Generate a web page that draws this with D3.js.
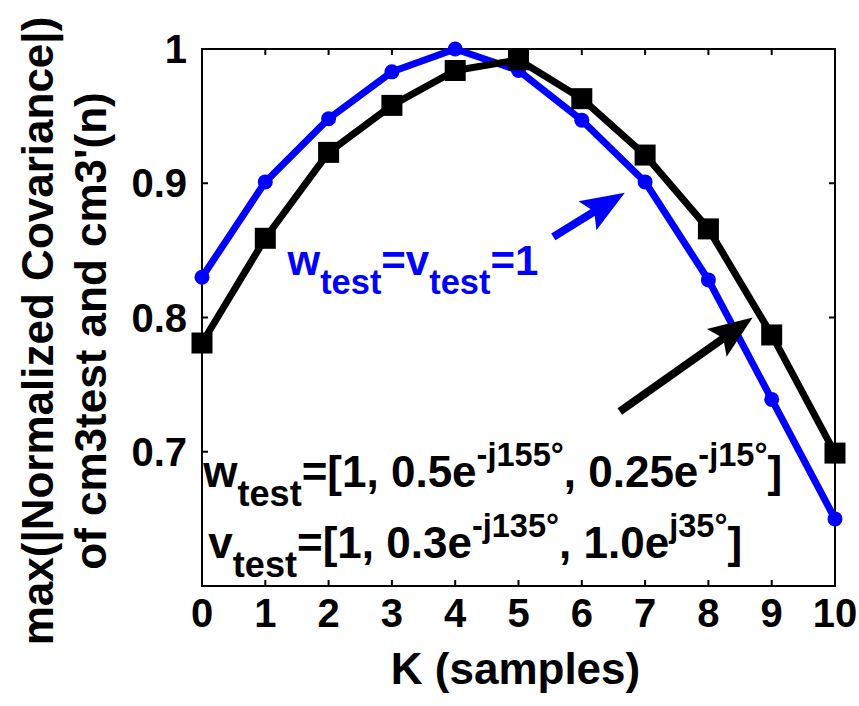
<!doctype html>
<html lang="en">
<head>
<meta charset="utf-8">
<title>max normalized covariance vs K</title>
<script src="https://cdn.jsdelivr.net/npm/d3@7"></script>
<style>
html, body { margin: 0; padding: 0; background: #fff; }
svg { display: block; font-family: "Liberation Sans", Arial, sans-serif; font-weight: bold; }
.frame { fill: none; stroke: #000; stroke-width: 2px; }
.tick-mark { stroke: #000; stroke-width: 2px; }
</style>
</head>
<body>
<svg id="chart" width="859" height="706"></svg>
<script>
// samples K
const kValues = [0, 1, 2, 3, 4, 5, 6, 7, 8, 9, 10];
// w_test = v_test = 1 (blue)
const unitWeights = [0.830, 0.901, 0.948, 0.983, 1.000, 0.984, 0.947, 0.901, 0.828, 0.739, 0.650];
// w_test = [1, 0.5e-j155, 0.25e-j15], v_test = [1, 0.3e-j135, 1.0ej35] (black)
const testWeights = [0.781, 0.859, 0.923, 0.958, 0.984, 0.992, 0.963, 0.921, 0.866, 0.787, 0.699];
const yTicks = [0.7, 0.8, 0.9, 1];
const yTickLabels = ["0.7", "0.8", "0.9", "1"];
const xTicks = [0, 1, 2, 3, 4, 5, 6, 7, 8, 9, 10];

// arrows, in data units: [from K, from value, to K, to value]
const arrows = [
  {color: "#0000ff", from: [5.55, 0.860], to: [6.68, 0.893]},
  {color: "#000000", from: [6.60, 0.730], to: [8.70, 0.800]}
];

const margin = {top: 49, right: 24, bottom: 120, left: 202};
const W = 859, H = 706;
const width = W - margin.left - margin.right,
      height = H - margin.top - margin.bottom;

const svg = d3.select("#chart");
const g = svg.append("g").attr("transform", `translate(${margin.left},${margin.top})`);

const x = d3.scaleLinear().domain([0, 10]).range([0, width]);
const y = d3.scaleLinear().domain([0.6, 1]).range([height, 0]);

// box
g.append("rect").attr("class", "frame").attr("x", 0).attr("y", 0).attr("width", width).attr("height", height);

// inward ticks on all four sides
const tl = 6;
xTicks.forEach(t => {
  g.append("line").attr("class", "tick-mark").attr("x1", x(t)).attr("x2", x(t)).attr("y1", height).attr("y2", height - tl);
  g.append("line").attr("class", "tick-mark").attr("x1", x(t)).attr("x2", x(t)).attr("y1", 0).attr("y2", tl);
  g.append("text").attr("x", x(t)).attr("y", height + 41).attr("text-anchor", "middle")
    .style("font-size", "40px").text(t);
});
yTicks.forEach((t, i) => {
  g.append("line").attr("class", "tick-mark").attr("x1", 0).attr("x2", tl).attr("y1", y(t)).attr("y2", y(t));
  g.append("line").attr("class", "tick-mark").attr("x1", width).attr("x2", width - tl).attr("y1", y(t)).attr("y2", y(t));
  g.append("text").attr("x", -15).attr("y", y(t) + 14).attr("text-anchor", "end")
    .style("font-size", "40px").text(yTickLabels[i]);
});

// axis titles
svg.append("text").attr("x", margin.left + width / 2 - 3).attr("y", 684).attr("text-anchor", "middle")
  .style("font-size", "44px").text("K (samples)");
const yt = svg.append("text").attr("transform", `translate(0,${331}) rotate(-90)`).attr("text-anchor", "middle")
  .style("font-size", "44px");
yt.append("tspan").attr("x", 0).attr("y", 53).text("max(|Normalized Covariance|)");
yt.append("tspan").attr("x", 0).attr("y", 106).text("of cm3test and cm3'(n)");

// lines
const line = d3.line().x((d, i) => x(kValues[i])).y(d => y(d));
g.append("path").datum(unitWeights).attr("fill", "none").attr("stroke", "#0000ff")
  .attr("stroke-width", 7).attr("stroke-linejoin", "round").attr("d", line);
g.selectAll(".dot").data(unitWeights).enter().append("circle")
  .attr("cx", (d, i) => x(kValues[i])).attr("cy", d => y(d)).attr("r", 7.5).attr("fill", "#0000ff");

g.append("path").datum(testWeights).attr("fill", "none").attr("stroke", "#000")
  .attr("stroke-width", 7).attr("stroke-linejoin", "round").attr("d", line);
const sq = 21;
g.selectAll(".sq").data(testWeights).enter().append("rect")
  .attr("x", (d, i) => x(kValues[i]) - sq / 2).attr("y", d => y(d) - sq / 2)
  .attr("width", sq).attr("height", sq).attr("fill", "#000");

// arrows
arrows.forEach(a => {
  const x0 = x(a.from[0]), y0 = y(a.from[1]), x1 = x(a.to[0]), y1 = y(a.to[1]);
  const ang = Math.atan2(y1 - y0, x1 - x0);
  const hl = 36, hw = 17;
  const bx = x1 - hl * Math.cos(ang), by = y1 - hl * Math.sin(ang);
  g.append("line").attr("x1", x0).attr("y1", y0).attr("x2", bx + 8 * Math.cos(ang)).attr("y2", by + 8 * Math.sin(ang))
    .attr("stroke", a.color).attr("stroke-width", 8);
  const nx = -Math.sin(ang), ny = Math.cos(ang);
  const back = 8;
  const pts = [
    [x1, y1],
    [bx - back * Math.cos(ang) + hw * nx, by - back * Math.sin(ang) + hw * ny],
    [bx, by],
    [bx - back * Math.cos(ang) - hw * nx, by - back * Math.sin(ang) - hw * ny]
  ];
  g.append("path").attr("d", "M" + pts.map(p => p.join(",")).join("L") + "Z").attr("fill", a.color);
});

// labels with sub/superscripts
function richText(k, v, color, size, parts) {
  const t = g.append("text").attr("x", x(k)).attr("y", y(v)).attr("fill", color).style("font-size", size + "px");
  let shift = 0;
  parts.forEach(p => {
    const target = p.sub ? 19 : p.sup ? -21 : 0;
    t.append("tspan").attr("dy", target - shift)
      .style("font-size", (p.sub ? size * 0.82 : p.sup ? size * 0.74 : size) + "px").text(p.t);
    shift = target;
  });
}
richText(1.35, 0.832, "#0000ff", 42, [
  {t: "w"}, {t: "test", sub: true}, {t: "=v"}, {t: "test", sub: true}, {t: "=1"}
]);
richText(0.02, 0.674, "#000", 44, [
  {t: "w"}, {t: "test", sub: true}, {t: "=[1, 0.5e"}, {t: "-j155°", sup: true},
  {t: ", 0.25e"}, {t: "-j15°", sup: true}, {t: "]"}
]);
richText(0.10, 0.621, "#000", 44, [
  {t: "v"}, {t: "test", sub: true}, {t: "=[1, 0.3e"}, {t: "-j135°", sup: true},
  {t: ", 1.0e"}, {t: "j35°", sup: true}, {t: "]"}
]);
</script>
</body>
</html>
